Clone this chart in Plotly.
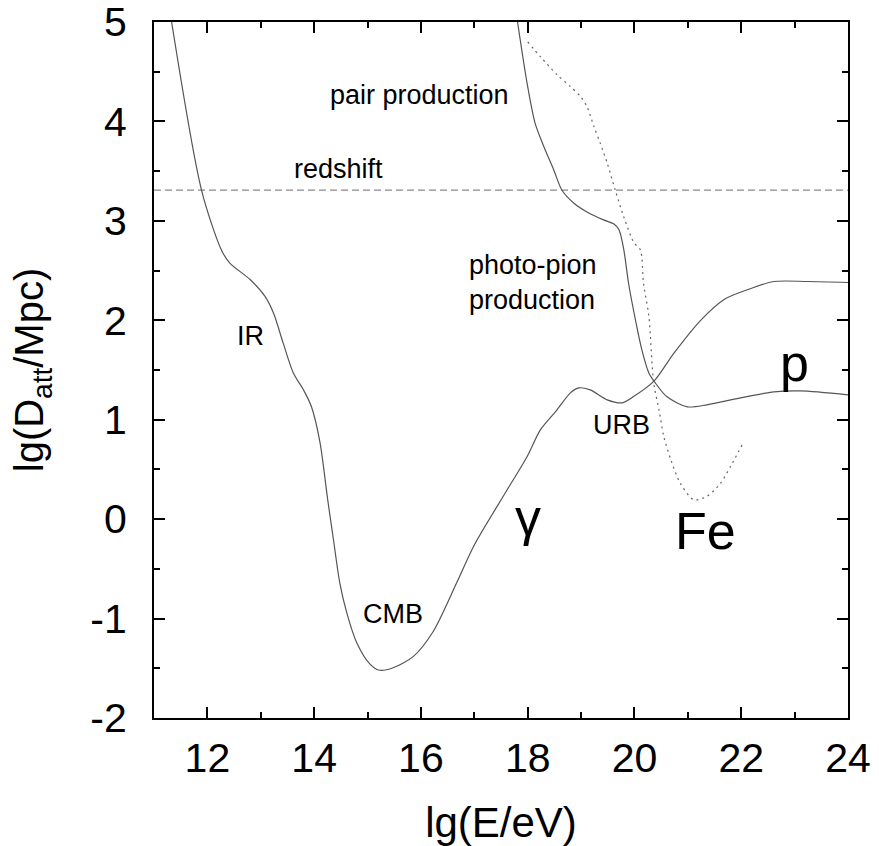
import plotly.graph_objects as go

# ---------------- data ----------------
gamma_x = [11.33, 11.89, 12.26, 12.42, 12.80, 13.08, 13.24, 13.42, 13.61, 13.80, 13.95, 14.11, 14.25,
           14.36, 14.48, 14.61, 14.80, 15.05, 15.23, 15.48, 15.86, 16.23, 16.67, 17.0, 17.61,
           17.99, 18.24, 18.55, 18.80, 18.96, 19.17, 19.49, 19.77, 19.99, 20.36, 20.74, 21.24, 21.68,
           22.18, 22.61, 23.24, 24.0]
gamma_y = [5.0, 3.31, 2.71, 2.575, 2.41, 2.24, 2.07, 1.77, 1.47, 1.30, 1.13, 0.77, 0.21,
           -0.20, -0.64, -0.94, -1.245, -1.46, -1.52, -1.495, -1.38, -1.13, -0.64, -0.26, 0.29,
           0.63, 0.90, 1.10, 1.27, 1.32, 1.30, 1.20, 1.17, 1.235, 1.385, 1.67, 2.0, 2.21,
           2.32, 2.39, 2.39, 2.38]

proton_x = [17.81, 17.99, 18.14, 18.30, 18.49, 18.64, 18.86, 19.11, 19.42, 19.61, 19.71, 19.80,
            19.89, 20.02, 20.14, 20.27, 20.39, 20.61, 20.99, 21.36, 21.99, 22.61, 23.11, 24.0]
proton_y = [5.0, 4.38, 3.98, 3.75, 3.51, 3.31, 3.18, 3.09, 3.01, 2.97, 2.91, 2.71,
            2.37, 2.0, 1.70, 1.47, 1.37, 1.23, 1.13, 1.15, 1.22, 1.28, 1.29, 1.25]

iron_x = [18.0, 18.24, 18.55, 18.80, 18.99, 19.11, 19.24, 19.36, 19.49, 19.64, 19.80, 19.99,
          20.11, 20.17, 20.27, 20.36, 20.46, 20.55, 20.68, 20.86, 21.11, 21.36, 21.61, 21.80, 22.02]
iron_y = [4.80, 4.65, 4.47, 4.35, 4.25, 4.15, 3.95, 3.78, 3.58, 3.31, 3.04, 2.78,
          2.71, 2.37, 2.04, 1.37, 1.10, 0.83, 0.60, 0.36, 0.196, 0.23, 0.36, 0.53, 0.75]

redshift_x = [11.0, 24.0]
redshift_y = [3.31, 3.31]

x_ticks = [12, 14, 16, 18, 20, 22, 24]
x_ticklabels = ["12", "14", "16", "18", "20", "22", "24"]
y_ticks = [-2, -1, 0, 1, 2, 3, 4, 5]
y_ticklabels = ["-2", "-1", "0", "1", "2", "3", "4", "5"]

labels_text = ["pair production", "redshift", "photo-pion<br>production", "IR", "CMB", "URB"]
labels_x = [15.97, 14.45, 16.87, 12.81, 15.47, 19.75]
labels_y = [4.27, 3.52, 2.38, 1.84, -0.955, 0.95]

big_text = ["γ", "Fe", "p"]
big_x = [18.0, 21.33, 22.99]
big_y = [0.02, -0.12, 1.57]

# ---------------- figure ----------------
FONT = "Liberation Sans, Arial, Helvetica, sans-serif"
fig = go.Figure()

fig.add_trace(go.Scatter(x=redshift_x, y=redshift_y, mode="lines",
                         line=dict(color="#8a8a8a", width=1.3, dash="7px,4px"),
                         showlegend=False, hoverinfo="skip"))
fig.add_trace(go.Scatter(x=gamma_x, y=gamma_y, mode="lines",
                         line=dict(color="#555555", width=1.2, shape="spline", smoothing=0.8),
                         showlegend=False))
fig.add_trace(go.Scatter(x=proton_x, y=proton_y, mode="lines",
                         line=dict(color="#555555", width=1.2, shape="spline", smoothing=0.8),
                         showlegend=False))
fig.add_trace(go.Scatter(x=iron_x, y=iron_y, mode="lines",
                         line=dict(color="#666666", width=1.2, shape="spline", smoothing=0.8,
                                   dash="2px,4px"),
                         showlegend=False))

for t, xx, yy in zip(labels_text, labels_x, labels_y):
    left = "<br>" in t
    fig.add_annotation(x=xx, y=yy, text=t, showarrow=False,
                       xanchor="left" if left else "center", align="left",
                       font=dict(family=FONT, size=27, color="black"))

for t, xx, yy in zip(big_text, big_x, big_y):
    fig.add_annotation(x=xx, y=yy, text=t, showarrow=False,
                       font=dict(family=FONT, size=52, color="black"))

axis_common = dict(showline=True, linecolor="black", linewidth=2, mirror="ticks",
                   ticks="inside", ticklen=11, tickwidth=1.5, tickcolor="black",
                   showgrid=False, zeroline=False, automargin=False,
                   ticklabeloverflow="allow",
                   tickfont=dict(family=FONT, size=41, color="black"))

fig.update_xaxes(range=[11, 24.0001], tickvals=x_ticks, ticktext=x_ticklabels,
                 minor=dict(dtick=1, tick0=11, ticks="inside", ticklen=6, tickwidth=1.5,
                            tickcolor="black", showgrid=False),
                 title=dict(text="lg(E/eV)", font=dict(family=FONT, size=42, color="black"),
                            standoff=32),
                 ticklabelstandoff=3, **axis_common)
fig.update_yaxes(range=[-2.0001, 5.0001], tickvals=y_ticks, ticktext=y_ticklabels,
                 minor=dict(dtick=0.5, tick0=-2, ticks="inside", ticklen=6, tickwidth=1.5,
                            tickcolor="black", showgrid=False),
                 title=dict(text="lg(D<sub>att</sub>/Mpc)",
                            font=dict(family=FONT, size=40, color="black"), standoff=34),
                 ticklabelstandoff=17, **axis_common)

fig.update_layout(width=879, height=846, margin=dict(l=154, r=31, t=22, b=128),
                  plot_bgcolor="white", paper_bgcolor="white")

fig.write_html("out.html")
